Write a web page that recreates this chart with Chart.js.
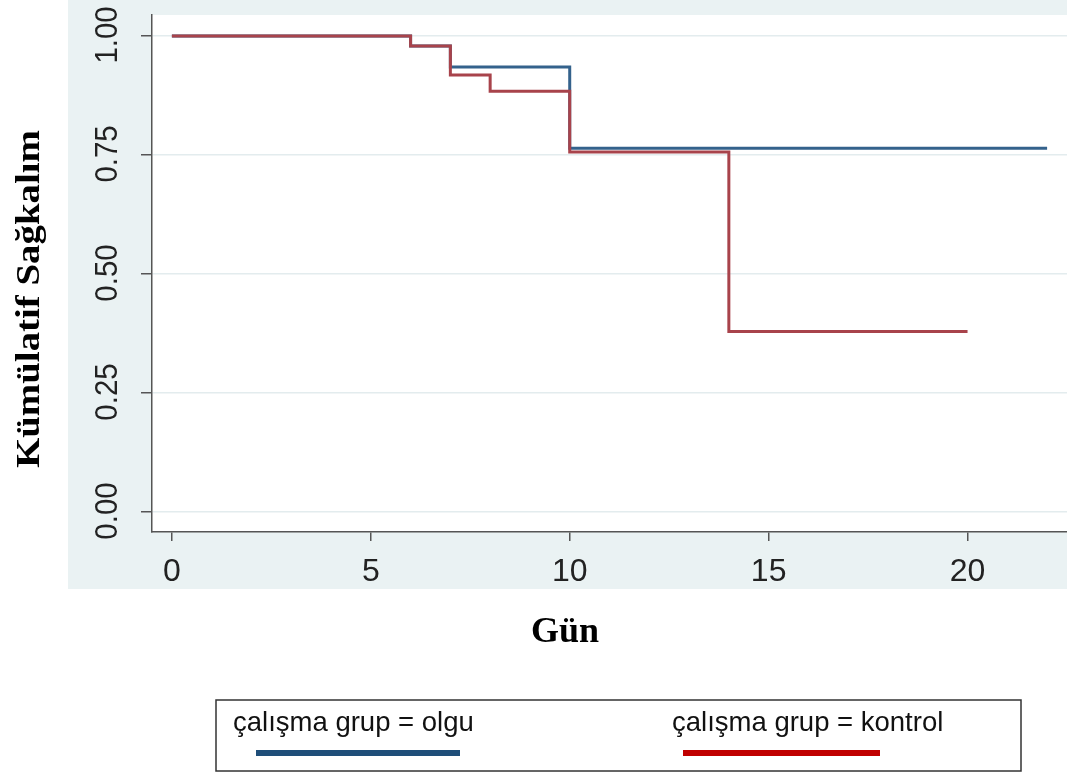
<!DOCTYPE html>
<html>
<head>
<meta charset="utf-8">
<script src="https://cdn.jsdelivr.net/npm/chart.js@4.4.1/dist/chart.umd.min.js"></script>
<style>
  html, body { margin: 0; padding: 0; background: #fff; }
  #wrap { width: 1067px; height: 773px; }
</style>
</head>
<body>
<div id="wrap"><canvas id="kmChart" width="1067" height="773"></canvas></div>
<script>
// Kaplan-Meier estimates
const olguDays = [0, 6, 7, 10, 22];
const olguSurv = [1, 0.979, 0.935, 0.764, 0.764];
const kontrolDays = [0, 6, 7, 8, 10, 14, 20];
const kontrolSurv = [1, 0.979, 0.918, 0.884, 0.756, 0.379, 0.379];

const xTicks = [0, 5, 10, 15, 20];
const yTicks = [0, 0.25, 0.5, 0.75, 1];
const yTickLabels = ["0.00", "0.25", "0.50", "0.75", "1.00"];

const seriesLabels = ["çalışma grup = olgu", "çalışma grup = kontrol"];
const legendColors = ["#1f4e79", "#c00000"];

const xTitle = "Gün";
const yTitle = "Kümülatif Sağkalım";

function toPoints(xs, ys) {
    return xs.map((x, i) => ({ x: x, y: ys[i] }));
}

// background panels, tick labels, titles and the legend box
const decorPlugin = {
    id: "decor",
    beforeDraw(chart) {
        const ctx = chart.ctx;
        const a = chart.chartArea;
        ctx.save();
        ctx.fillStyle = "#ffffff";
        ctx.fillRect(0, 0, chart.width, chart.height);
        ctx.fillStyle = "#eaf2f3";
        ctx.fillRect(68, 0, chart.width - 68, 589);
        ctx.fillStyle = "#ffffff";
        ctx.fillRect(a.left, a.top, a.right - a.left, a.bottom - a.top);
        ctx.restore();
    },
    afterDraw(chart) {
        const ctx = chart.ctx;
        const ys = chart.scales.y;
        ctx.save();

        // rotated y tick labels
        ctx.fillStyle = "#222";
        ctx.font = "31px 'Liberation Sans', Arial, sans-serif";
        ctx.textAlign = "center";
        ctx.textBaseline = "middle";
        yTicks.forEach((v, i) => {
            const py = ys.getPixelForValue(v);
            ctx.save();
            ctx.translate(108, py - 1);
            ctx.rotate(-Math.PI / 2);
            ctx.scale(0.95, 1);
            ctx.fillText(yTickLabels[i], 0, 0);
            ctx.restore();
        });

        // y title, stretched to the reference length
        ctx.fillStyle = "#000";
        ctx.font = "bold 34px 'Liberation Serif', 'Times New Roman', serif";
        ctx.textBaseline = "middle";
        const w = ctx.measureText(yTitle).width;
        ctx.save();
        ctx.translate(30, 299);
        ctx.rotate(-Math.PI / 2);
        ctx.scale(338 / w, 1);
        ctx.fillText(yTitle, 0, 0);
        ctx.restore();

        // x title
        ctx.font = "bold 36px 'Liberation Serif', 'Times New Roman', serif";
        ctx.textBaseline = "alphabetic";
        ctx.fillText(xTitle, 565, 642);

        // legend box
        ctx.strokeStyle = "#333";
        ctx.lineWidth = 1.5;
        ctx.strokeRect(216, 700, 805, 71);
        ctx.font = "27.5px 'Liberation Sans', Arial, sans-serif";
        ctx.textAlign = "left";
        ctx.fillStyle = "#111";
        const textX = [233, 672];
        const lineX = [[256, 460], [683, 880]];
        seriesLabels.forEach((lab, i) => {
            ctx.fillText(lab, textX[i], 731);
            ctx.strokeStyle = legendColors[i];
            ctx.lineWidth = 6;
            ctx.beginPath();
            ctx.moveTo(lineX[i][0], 753);
            ctx.lineTo(lineX[i][1], 753);
            ctx.stroke();
        });
        ctx.restore();
    }
};

const ctx = document.getElementById("kmChart");
new Chart(ctx, {
    type: "line",
    data: {
        datasets: [
            {
                label: seriesLabels[1],
                data: toPoints(kontrolDays, kontrolSurv),
                borderColor: "#a8434b",
                borderWidth: 3,
                stepped: "before",
                pointRadius: 0,
                fill: false
            },
            {
                label: seriesLabels[0],
                data: toPoints(olguDays, olguSurv),
                borderColor: "#34628c",
                borderWidth: 3,
                stepped: "before",
                pointRadius: 0,
                fill: false
            }
        ]
    },
    options: {
        responsive: false,
        animation: false,
        layout: { padding: { top: 15, left: 0, right: 0, bottom: 0 } },
        plugins: {
            legend: { display: false },
            tooltip: { enabled: false }
        },
        scales: {
            x: {
                type: "linear",
                min: -0.5,
                max: 22.5,
                afterBuildTicks: (s) => { s.ticks = xTicks.map(v => ({ value: v })); },
                afterFit: (s) => { s.height = 773 - 532; },
                grid: { drawOnChartArea: false, drawTicks: true, tickLength: 9, tickColor: "#555", lineWidth: 1.5 },
                border: { color: "#555", width: 1.5 },
                ticks: {
                    color: "#222",
                    padding: 12,
                    maxRotation: 0,
                    font: { family: "'Liberation Sans', Arial, sans-serif", size: 32 }
                }
            },
            y: {
                type: "linear",
                min: -0.042,
                max: 1.044,
                afterBuildTicks: (s) => { s.ticks = yTicks.map(v => ({ value: v })); },
                afterFit: (s) => { s.width = 152; },
                grid: { color: "#e3ecee", lineWidth: 1.5, drawTicks: true, tickLength: 11, tickColor: "#555" },
                border: { color: "#555", width: 1.5 },
                ticks: { display: false }
            }
        }
    },
    plugins: [decorPlugin]
});
</script>
</body>
</html>
